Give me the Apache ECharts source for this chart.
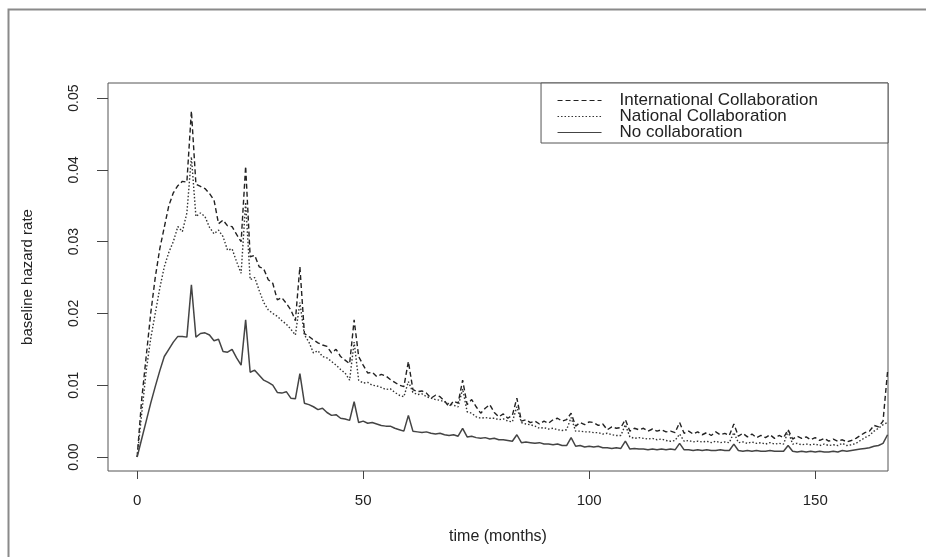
<!DOCTYPE html>
<html>
<head>
<meta charset="utf-8" />
<title>baseline hazard rate</title>
<script src="https://cdn.jsdelivr.net/npm/echarts@6/dist/echarts.min.js"></script>
<style>
  html, body { margin: 0; padding: 0; background: #fff; }
  #main { width: 926px; height: 557px; }
</style>
</head>
<body>
<div id="main"></div>
<script type="text/javascript">
// months since start
var months = [0,1,2,3,4,5,6,7,8,9,10,11,12,13,14,15,16,17,18,19,20,21,22,23,24,25,26,27,28,29,30,31,32,33,34,35,36,37,38,39,40,41,42,43,44,45,46,47,48,49,50,51,52,53,54,55,56,57,58,59,60,61,62,63,64,65,66,67,68,69,70,71,72,73,74,75,76,77,78,79,80,81,82,83,84,85,86,87,88,89,90,91,92,93,94,95,96,97,98,99,100,101,102,103,104,105,106,107,108,109,110,111,112,113,114,115,116,117,118,119,120,121,122,123,124,125,126,127,128,129,130,131,132,133,134,135,136,137,138,139,140,141,142,143,144,145,146,147,148,149,150,151,152,153,154,155,156,157,158,159,160,161,162,163,164,165,166];

var international = [0,0.008,0.014,0.020,0.025,0.029,0.032,0.035,0.0368,0.0378,0.0384,0.0383,0.0482,0.0380,0.0377,0.0374,0.0367,0.0358,0.0325,0.0330,
  0.0322,0.0321,0.0310,0.0300,0.0405,0.0279,0.0281,0.0265,0.0262,0.0247,0.0242,0.0219,0.0222,0.0214,0.0205,0.0190,0.0265,0.0172,0.0168,0.0163,
  0.0159,0.0156,0.0154,0.0145,0.0150,0.0140,0.0135,0.0130,0.0191,0.0140,0.0128,0.0117,0.0118,0.0112,0.0115,0.0113,0.0108,0.0104,0.0100,0.0098,
  0.0133,0.0094,0.0091,0.0092,0.0089,0.0082,0.0086,0.0084,0.0078,0.0070,0.0078,0.0075,0.0107,0.0073,0.0080,0.0070,0.0061,0.0068,0.0073,0.0062,
  0.0056,0.0060,0.0054,0.0058,0.0082,0.0050,0.0052,0.0048,0.0050,0.0046,0.0050,0.0047,0.0052,0.0054,0.0050,0.0052,0.0061,0.0043,0.0048,0.0045,
  0.0049,0.0048,0.0044,0.0046,0.0038,0.0042,0.0040,0.0041,0.0052,0.0036,0.0040,0.0038,0.0040,0.0036,0.0039,0.0036,0.0038,0.0035,0.0036,0.0034,
  0.0048,0.0033,0.0036,0.0032,0.0035,0.0031,0.0034,0.0030,0.0035,0.0031,0.0033,0.0030,0.0046,0.0029,0.0033,0.0028,0.0032,0.0027,0.0030,0.0027,
  0.0031,0.0026,0.0030,0.0027,0.0038,0.0025,0.0029,0.0026,0.0028,0.0024,0.0027,0.0023,0.0026,0.0022,0.0025,0.0022,0.0024,0.0021,0.0023,0.0026,
  0.0030,0.0034,0.0036,0.0044,0.0042,0.0050,0.0119];

var national = [0,0.006,0.012,0.0165,0.020,0.0235,0.0265,0.0285,0.030,0.0321,0.0314,0.0340,0.0418,0.0335,0.0340,0.0335,0.0320,0.0311,0.0316,0.0307,
  0.0288,0.0290,0.0272,0.0256,0.0355,0.0247,0.0250,0.0232,0.0215,0.0205,0.0200,0.0196,0.0190,0.0185,0.0178,0.0170,0.0215,0.0170,0.0160,0.0145,
  0.0148,0.0140,0.0138,0.0133,0.0128,0.0122,0.0117,0.0107,0.0160,0.0107,0.0103,0.0104,0.0100,0.0099,0.0097,0.0094,0.0095,0.0090,0.0086,0.0084,
  0.0105,0.0090,0.0087,0.0088,0.0084,0.0082,0.0080,0.0079,0.0077,0.0074,0.0072,0.0070,0.0095,0.0063,0.0061,0.0056,0.0054,0.0055,0.0054,0.0054,
  0.0052,0.0053,0.0050,0.0049,0.0070,0.0048,0.0046,0.0045,0.0043,0.0040,0.0041,0.0039,0.0040,0.0038,0.0037,0.0038,0.0055,0.0036,0.0036,0.0035,
  0.0035,0.0034,0.0034,0.0032,0.0033,0.0031,0.0030,0.0030,0.0045,0.0028,0.0026,0.0027,0.0026,0.0025,0.0026,0.0024,0.0025,0.0023,0.0022,0.0023,
  0.0032,0.0022,0.0023,0.0021,0.0022,0.0021,0.0022,0.0020,0.0022,0.0020,0.0021,0.0020,0.0034,0.0020,0.0021,0.0019,0.0021,0.0019,0.0020,0.0018,
  0.0020,0.0018,0.0019,0.0018,0.0036,0.0018,0.0019,0.0017,0.0018,0.0017,0.0018,0.0016,0.0018,0.0016,0.0017,0.0016,0.0019,0.0016,0.0017,0.0019,
  0.0023,0.0027,0.0030,0.0036,0.0040,0.0045,0.0048];

var noCollab = [0,0.0025,0.005,0.0075,0.0098,0.0120,0.0140,0.0150,0.0160,0.0168,0.0168,0.0167,0.0240,0.0167,0.0172,0.0173,0.0170,0.0162,0.0164,0.0147,
  0.0146,0.0150,0.0138,0.0128,0.0191,0.0118,0.0121,0.0114,0.0107,0.0104,0.0100,0.0090,0.0089,0.0091,0.0082,0.0081,0.0116,0.0075,0.0073,0.0070,
  0.0066,0.0068,0.0062,0.0058,0.0059,0.0054,0.0053,0.0051,0.0077,0.0048,0.0050,0.0047,0.0048,0.0046,0.0044,0.0043,0.0043,0.0040,0.0038,0.0036,
  0.0058,0.0036,0.0035,0.0034,0.0035,0.0033,0.0032,0.0033,0.0031,0.0030,0.0031,0.0029,0.0040,0.0028,0.0029,0.0027,0.0026,0.0027,0.0025,0.0026,
  0.0024,0.0024,0.0023,0.0022,0.0031,0.0020,0.0021,0.0020,0.0019,0.0020,0.0018,0.0018,0.0017,0.0018,0.0016,0.0016,0.0027,0.0015,0.0016,0.0014,
  0.0015,0.0014,0.0015,0.0013,0.0013,0.0012,0.0013,0.0012,0.0022,0.0011,0.0012,0.0011,0.0011,0.0010,0.0011,0.0010,0.0011,0.0010,0.0011,0.0010,
  0.0019,0.0010,0.0010,0.0009,0.0010,0.0009,0.0010,0.0009,0.0009,0.0010,0.0009,0.0009,0.0018,0.0009,0.0008,0.0009,0.0008,0.0009,0.0008,0.0008,
  0.0009,0.0008,0.0008,0.0008,0.0016,0.0008,0.0007,0.0008,0.0007,0.0008,0.0007,0.0008,0.0007,0.0007,0.0008,0.0007,0.0009,0.0008,0.0009,0.0010,
  0.0011,0.0012,0.0013,0.0015,0.0016,0.0019,0.0031];

var xTicks = [0, 50, 100, 150];
var yTicks = [0, 0.01, 0.02, 0.03, 0.04, 0.05];

function pairs(vals) {
  var out = [];
  for (var i = 0; i < vals.length; i++) out.push([months[i], vals[i]]);
  return out;
}

var font = 'Liberation Sans, Arial, sans-serif';
var myCharts = echarts.init(document.getElementById("main"), null, {renderer: 'canvas'});
var option = {
  animation: false,
  backgroundColor: '#fff',
  grid: {
    left: 108, top: 83, right: 38, bottom: 86,
    show: true, borderColor: '#555', borderWidth: 1, backgroundColor: 'transparent'
  },
  xAxis: {
    type: 'value', min: -6.45, max: 166.1,
    name: 'time (months)', nameLocation: 'middle', nameGap: 58,
    nameTextStyle: {fontFamily: font, fontSize: 16, color: '#222'},
    axisLine: {show: false, onZero: false},
    axisTick: {show: true, inside: false, length: 8, customValues: xTicks, lineStyle: {color: '#444'}},
    axisLabel: {customValues: xTicks, margin: 22, fontFamily: font, fontSize: 15, color: '#222'},
    splitLine: {show: false}
  },
  yAxis: {
    type: 'value', min: -0.00195, max: 0.0521,
    name: 'baseline hazard rate', nameLocation: 'middle', nameGap: 73, nameRotate: 90,
    nameTextStyle: {fontFamily: font, fontSize: 15, color: '#222'},
    axisLine: {show: false, onZero: false},
    axisTick: {show: true, inside: false, length: 11, customValues: yTicks, lineStyle: {color: '#444'}},
    axisLabel: {
      customValues: yTicks, rotate: 90, margin: 34, align: 'center', verticalAlign: 'middle',
      fontFamily: font, fontSize: 14, color: '#222',
      formatter: function (v) { return v.toFixed(2); }
    },
    splitLine: {show: false}
  },
  legend: {
    orient: 'vertical', right: 38, top: 83,
    backgroundColor: '#fff', borderColor: '#555', borderWidth: 1,
    padding: [9, 70, 2, 16], itemGap: -1, itemWidth: 44, itemHeight: 14,
    itemStyle: {opacity: 0},
    lineStyle: {width: 1},
    textStyle: {fontFamily: font, fontSize: 17, lineHeight: 15.5, color: '#222', padding: [0, 0, 0, 13]},
    data: ['International Collaboration', 'National Collaboration', 'No collaboration']
  },
  graphic: [{
    type: 'rect', silent: true, z: -1,
    shape: {x: 8.5, y: 9.5, width: 1000, height: 1000},
    style: {fill: 'none', stroke: '#8a8a8a', lineWidth: 2}
  }],
  series: [
    {name: 'International Collaboration', type: 'line', symbol: 'none', data: pairs(international),
      lineStyle: {color: '#222', width: 1.4, type: [5, 3]}, itemStyle: {color: '#222'}},
    {name: 'National Collaboration', type: 'line', symbol: 'none', data: pairs(national),
      lineStyle: {color: '#333', width: 1.4, type: [1.5, 2]}, itemStyle: {color: '#333'}},
    {name: 'No collaboration', type: 'line', symbol: 'none', data: pairs(noCollab),
      lineStyle: {color: '#444', width: 1.5, type: 'solid'}, itemStyle: {color: '#444'}}
  ]
};
myCharts.setOption(option);
</script>
</body>
</html>
